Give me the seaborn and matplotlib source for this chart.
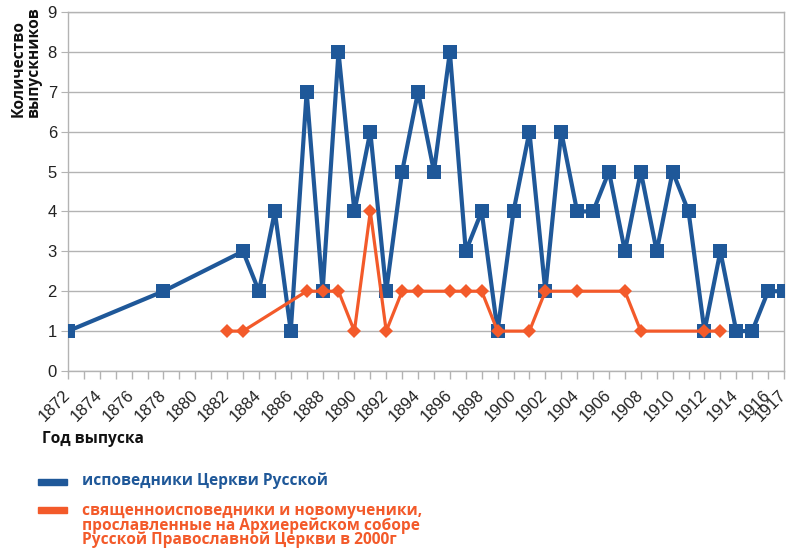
import matplotlib
matplotlib.use("Agg")
import matplotlib.pyplot as plt
from matplotlib.patches import Rectangle
import seaborn as sns
import pandas as pd

BLUE = "#1f5899"
ORANGE = "#f35a2a"
GRID = "#b3b3b3"

# исповедники Церкви Русской
blue_years = [1872, 1878, 1883, 1884, 1885, 1886, 1887, 1888, 1889, 1890,
              1891, 1892, 1893, 1894, 1895, 1896, 1897, 1898, 1899, 1900,
              1901, 1902, 1903, 1904, 1905, 1906, 1907, 1908, 1909, 1910,
              1911, 1912, 1913, 1914, 1915, 1916, 1917]
blue_counts = [1, 2, 3, 2, 4, 1, 7, 2, 8, 4,
               6, 2, 5, 7, 5, 8, 3, 4, 1, 4,
               6, 2, 6, 4, 4, 5, 3, 5, 3, 5,
               4, 1, 3, 1, 1, 2, 2]

# священноисповедники и новомученики
orange_years = [1882, 1883, 1887, 1888, 1889, 1890, 1891, 1892, 1893, 1894,
                1896, 1897, 1898, 1899, 1901, 1902, 1904, 1907, 1908, 1912,
                1913]
orange_counts = [1, 1, 2, 2, 2, 1, 4, 1, 2, 2,
                 2, 2, 2, 1, 1, 2, 2, 2, 1, 1,
                 1]

x_ticks = list(range(1872, 1917, 2)) + [1917]

LABEL_BLUE = "исповедники Церкви Русской"
LABEL_ORANGE = ["священноисповедники и новомученики,",
                "прославленные на Архиерейском соборе",
                "Русской Православной Церкви в 2000г"]
Y_TITLE = ["Количество", "выпускников"]
X_TITLE = "Год выпуска"

LABEL_FONT = ["Open Sans", "DejaVu Sans"]
LABEL_SIZE = 11.2


def px(x, y):
    # pixel position (from top-left) to figure fraction
    return x / 803, 1 - y / 550


def main():
    sns.set_style("white")
    plt.rcParams["font.family"] = ["Liberation Sans", "DejaVu Sans"]

    blue_df = pd.DataFrame({"year": blue_years, "count": blue_counts})
    orange_df = pd.DataFrame({"year": orange_years, "count": orange_counts})

    fig = plt.figure(figsize=(8.03, 5.5), dpi=100)
    ax = fig.add_axes([68 / 803, 179 / 550, 716 / 803, 359 / 550])

    sns.lineplot(data=blue_df, x="year", y="count", ax=ax, color=BLUE,
                 linewidth=3, marker="s", markersize=9.5, markeredgewidth=0,
                 zorder=3)
    sns.lineplot(data=orange_df, x="year", y="count", ax=ax, color=ORANGE,
                 linewidth=2.3, marker="D", markersize=7.5,
                 markeredgewidth=0, zorder=4)

    ax.set_xlim(1872, 1917)
    ax.set_ylim(0, 9)
    ax.set_yticks(range(0, 10))
    ax.set_xticks(x_ticks)
    ax.set_xticks(range(1872, 1918), minor=True)
    ax.set_xticklabels([str(t) for t in x_ticks], rotation=45, ha="right",
                       va="center", rotation_mode="anchor")
    ax.tick_params(axis="x", which="both", direction="out", length=6,
                   color=GRID, width=1, bottom=True, labelsize=12,
                   labelcolor="#222222", pad=9.5)
    ax.tick_params(axis="y", direction="out", length=5, color=GRID,
                   left=True, labelsize=12, labelcolor="#222222", pad=3)
    ax.grid(axis="y", color=GRID, linewidth=1)
    ax.grid(axis="x", visible=False)
    for s in ax.spines.values():
        s.set_color(GRID)
        s.set_linewidth(1)

    ax.set_xlabel("")
    ax.set_ylabel("")

    # axis titles
    for line, x in zip(Y_TITLE, [23, 38]):
        fig.text(*px(x, 117), line, rotation=90, rotation_mode="anchor",
                 ha="left", va="baseline", fontsize=LABEL_SIZE,
                 fontweight="bold", family=LABEL_FONT, color="#111111")
    fig.text(*px(42, 443), X_TITLE, ha="left", va="baseline",
             fontsize=LABEL_SIZE, fontweight="bold", family=LABEL_FONT,
             color="#111111")

    # legend below the chart, handles level with the first text line
    for y, col in [(479, BLUE), (507, ORANGE)]:
        x0, y0 = px(38, y + 5.5)
        fig.patches.append(Rectangle((x0, y0), 29 / 803, 5.5 / 550,
                                     transform=fig.transFigure,
                                     color=col, figure=fig))
    fig.text(*px(82, 485), LABEL_BLUE, ha="left", va="baseline",
             color=BLUE, fontsize=LABEL_SIZE, fontweight="bold",
             family=LABEL_FONT)
    for line, y in zip(LABEL_ORANGE, [515, 529.5, 544]):
        fig.text(*px(82, y), line, ha="left", va="baseline",
                 color=ORANGE, fontsize=LABEL_SIZE, fontweight="bold",
                 family=LABEL_FONT)

    fig.savefig("out.png", dpi=100)


if __name__ == "__main__":
    main()
